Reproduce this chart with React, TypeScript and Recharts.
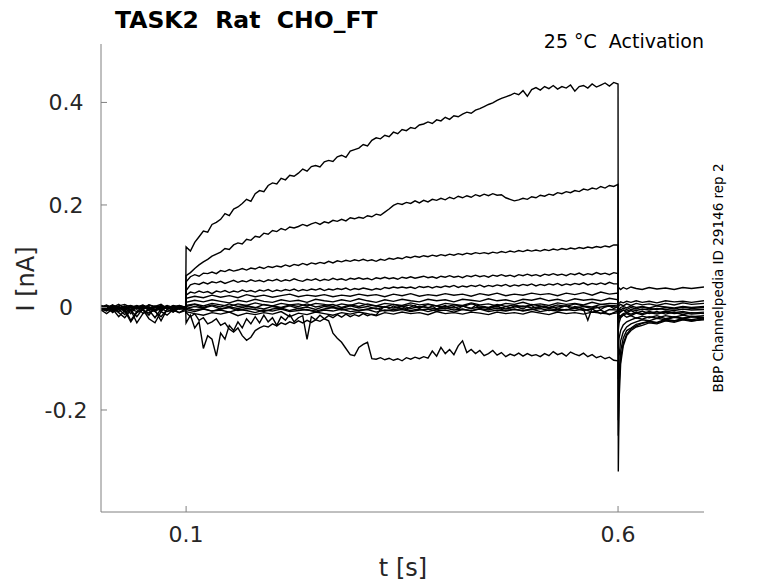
import React from 'react';
import { LineChart, Line, XAxis, YAxis } from 'recharts';

// ---- sample-time grids (s) ----
const T_PRE = [0.0015, 0.008, 0.015, 0.022, 0.029, 0.036, 0.043, 0.05, 0.057, 0.064, 0.071, 0.078, 0.085, 0.092, 0.0995];
const T_POST = [0.6003, 0.6012, 0.603, 0.606, 0.61, 0.615, 0.621, 0.628, 0.636, 0.645, 0.655, 0.665, 0.675, 0.685, 0.6995];
const T_FINE = Array.from({ length: 101 }, (_, k) => Math.round((0.1 + k * 0.005) * 10000) / 10000);
const T_COARSE = Array.from({ length: 51 }, (_, k) => Math.round((0.1 + k * 0.01) * 10000) / 10000);

// ---- axes ----
const X_DOMAIN = [0.0015, 0.6995];
const Y_DOMAIN = [-0.399, 0.514];
const X_TICKS = [0.1, 0.6];
const Y_TICKS = [-0.2, 0, 0.2, 0.4];
const X_TICK_LABELS = ['0.1', '0.6'];
const Y_TICK_LABELS = ['-0.2', '0', '0.2', '0.4'];

// ---- sweeps (current, nA) ----
const A_PRE = [0.002, -0.003, 0.004, -0.001, 0.003, -0.004, 0.001, 0.005, -0.002, 0.003, -0.001, 0.004, 0.0, 0.003, 0.001];
const A_STEP = [
  0.118, 0.11, 0.127, 0.138, 0.149, 0.147, 0.162, 0.166, 0.172, 0.183,
  0.179, 0.192, 0.196, 0.203, 0.211, 0.207, 0.222, 0.228, 0.226, 0.238,
  0.243, 0.241, 0.252, 0.249, 0.258, 0.256, 0.262, 0.27, 0.266, 0.275,
  0.277, 0.274, 0.284, 0.287, 0.285, 0.294, 0.297, 0.293, 0.305, 0.308,
  0.311, 0.318, 0.315, 0.326, 0.331, 0.329, 0.336, 0.333, 0.342, 0.339,
  0.347, 0.345, 0.351, 0.349, 0.356, 0.358, 0.362, 0.359, 0.366, 0.364,
  0.371, 0.367, 0.374, 0.372, 0.377, 0.381, 0.379, 0.385, 0.388, 0.392,
  0.396, 0.399, 0.404, 0.408, 0.411, 0.414, 0.418, 0.415, 0.423, 0.412,
  0.425, 0.429, 0.424, 0.431, 0.427, 0.433, 0.426, 0.431, 0.428, 0.434,
  0.422, 0.431, 0.433, 0.428, 0.436, 0.43, 0.434, 0.438, 0.432, 0.439,
  0.436,
];
const A_POST = [-0.32, -0.18, -0.11, -0.075, -0.055, -0.045, -0.038, -0.035, -0.03, -0.032, -0.026, -0.029, -0.024, -0.027, -0.022];

const B_PRE = [-0.002, 0.003, -0.004, 0.002, -0.006, 0.001, -0.003, 0.004, -0.001, -0.005, 0.002, -0.002, 0.003, -0.003, 0.0];
const B_STEP = [
  0.062, 0.068, 0.076, 0.083, 0.089, 0.094, 0.1, 0.104, 0.108, 0.115,
  0.113, 0.122, 0.126, 0.124, 0.133, 0.131, 0.139, 0.137, 0.145, 0.143,
  0.15, 0.148, 0.154, 0.151, 0.157, 0.155, 0.158, 0.162, 0.159, 0.163,
  0.166, 0.162, 0.167, 0.165, 0.17, 0.168, 0.172, 0.169, 0.175, 0.173,
  0.176, 0.174, 0.179, 0.177, 0.182, 0.18, 0.186, 0.192, 0.199, 0.203,
  0.201, 0.205, 0.203, 0.208, 0.204, 0.209, 0.206, 0.211, 0.209, 0.213,
  0.21, 0.215, 0.212, 0.217, 0.214, 0.218, 0.215, 0.22, 0.217, 0.221,
  0.218, 0.222, 0.219, 0.22, 0.214, 0.211, 0.208, 0.21, 0.213, 0.211,
  0.216, 0.214, 0.219, 0.217, 0.221, 0.219, 0.224, 0.222, 0.226, 0.224,
  0.228, 0.226, 0.231, 0.229, 0.233, 0.231, 0.236, 0.233, 0.238, 0.236,
  0.24,
];
const B_POST = [-0.22, -0.13, -0.085, -0.06, -0.045, -0.04, -0.033, -0.03, -0.027, -0.029, -0.023, -0.026, -0.021, -0.024, -0.02];

const C_PRE = [0.001, -0.005, 0.002, -0.008, 0.0, -0.012, 0.003, -0.004, -0.015, 0.001, -0.006, 0.002, -0.004, 0.001, -0.002];
const C_STEP = [
  0.05, 0.06, 0.064, 0.061, 0.067, 0.066, 0.069, 0.066, 0.072, 0.07,
  0.074, 0.071, 0.073, 0.076, 0.073, 0.077, 0.075, 0.079, 0.076, 0.08,
  0.078, 0.081, 0.079, 0.083, 0.08, 0.084, 0.082, 0.086, 0.083, 0.087,
  0.085, 0.088, 0.086, 0.09, 0.087, 0.091, 0.089, 0.092, 0.09, 0.093,
  0.091, 0.094, 0.091, 0.093, 0.09, 0.094, 0.092, 0.096, 0.094, 0.097,
  0.095, 0.099, 0.097, 0.1, 0.098, 0.101, 0.099, 0.102, 0.1, 0.103,
  0.101, 0.104, 0.102, 0.105, 0.103, 0.106, 0.104, 0.107, 0.105, 0.107,
  0.105, 0.108, 0.106, 0.109, 0.107, 0.11, 0.108, 0.111, 0.109, 0.112,
  0.11, 0.112, 0.11, 0.113, 0.111, 0.114, 0.112, 0.115, 0.113, 0.116,
  0.114, 0.117, 0.115, 0.118, 0.116, 0.119, 0.117, 0.12, 0.118, 0.122,
  0.122,
];
const C_POST = [-0.14, -0.095, -0.065, -0.048, -0.038, -0.032, -0.028, -0.024, -0.026, -0.021, -0.024, -0.019, -0.022, -0.018, -0.02];

const D_PRE = [-0.004, 0.002, -0.01, 0.001, -0.003, -0.025, -0.008, 0.002, -0.005, -0.02, -0.003, 0.001, -0.007, 0.002, 0.0];
const D_STEP = [
  0.033, 0.044, 0.047, 0.045, 0.049, 0.046, 0.05, 0.048, 0.051, 0.047,
  0.05, 0.053, 0.049, 0.052, 0.05, 0.054, 0.051, 0.053, 0.05, 0.054,
  0.052, 0.055, 0.051, 0.054, 0.052, 0.056, 0.053, 0.051, 0.055, 0.053,
  0.056, 0.052, 0.055, 0.053, 0.057, 0.054, 0.056, 0.053, 0.057, 0.055,
  0.058, 0.055, 0.057, 0.054, 0.058, 0.056, 0.059, 0.056, 0.058, 0.055,
  0.059, 0.057, 0.06, 0.057, 0.059, 0.061, 0.058, 0.06, 0.057, 0.061,
  0.059, 0.062, 0.059, 0.061, 0.058, 0.062, 0.06, 0.063, 0.06, 0.062,
  0.059, 0.063, 0.061, 0.064, 0.061, 0.063, 0.06, 0.064, 0.062, 0.065,
  0.062, 0.064, 0.061, 0.065, 0.063, 0.066, 0.063, 0.065, 0.062, 0.066,
  0.064, 0.067, 0.063, 0.066, 0.064, 0.068, 0.065, 0.067, 0.064, 0.068,
  0.066,
];
const D_POST = [-0.08, -0.06, -0.045, -0.034, -0.028, -0.024, -0.02, -0.023, -0.018, -0.021, -0.016, -0.019, -0.015, -0.018, -0.016];

const E_PRE = [0.003, -0.001, 0.005, -0.003, 0.002, 0.004, -0.002, 0.003, 0.001, -0.004, 0.004, -0.001, 0.002, -0.002, 0.001];
const E_STEP = [
  0.024, 0.03, 0.028, 0.032, 0.029, 0.031, 0.027, 0.032, 0.03, 0.033,
  0.029, 0.032, 0.03, 0.034, 0.031, 0.033, 0.03, 0.034, 0.032, 0.035,
  0.031, 0.034, 0.032, 0.035, 0.033, 0.036, 0.032, 0.035, 0.033, 0.036,
  0.034, 0.037, 0.033, 0.036, 0.034, 0.037, 0.035, 0.038, 0.034, 0.037,
  0.035, 0.038, 0.036, 0.034, 0.037, 0.035, 0.039, 0.037, 0.04, 0.038,
  0.04, 0.038, 0.04, 0.037, 0.041, 0.039, 0.041, 0.038, 0.041, 0.039,
  0.042, 0.04, 0.043, 0.039, 0.042, 0.04, 0.043, 0.041, 0.044, 0.04,
  0.043, 0.041, 0.044, 0.042, 0.045, 0.041, 0.044, 0.042, 0.045, 0.043,
  0.046, 0.042, 0.045, 0.043, 0.046, 0.044, 0.047, 0.043, 0.046, 0.044,
  0.047, 0.045, 0.048, 0.044, 0.047, 0.045, 0.048, 0.045, 0.049, 0.046,
  0.046,
];
const E_POST = [0.036, 0.038, 0.035, 0.039, 0.036, 0.04, 0.037, 0.035, 0.039, 0.036, 0.038, 0.035, 0.039, 0.037, 0.04];

const F_PRE = [-0.001, 0.004, 0.0, 0.006, -0.002, 0.003, 0.001, -0.003, 0.005, 0.0, 0.003, -0.002, 0.004, 0.001, 0.002];
const F_STEP = [
  0.018, 0.022, 0.019, 0.024, 0.02, 0.023, 0.019, 0.025, 0.021, 0.024,
  0.02, 0.023, 0.026, 0.021, 0.024, 0.022, 0.025, 0.021, 0.024, 0.022,
  0.026, 0.023, 0.025, 0.021, 0.026, 0.023, 0.027, 0.022, 0.025, 0.023,
  0.027, 0.024, 0.026, 0.022, 0.027, 0.024, 0.028, 0.023, 0.026, 0.024,
  0.028, 0.025, 0.027, 0.023, 0.028, 0.025, 0.029, 0.024, 0.03, 0.026,
  0.028,
];
const F_POST = [-0.03, -0.022, -0.016, -0.012, -0.01, -0.013, -0.009, -0.012, -0.008, -0.011, -0.007, -0.01, -0.008, -0.011, -0.009];

const G_PRE = [0.004, 0.0, -0.006, 0.002, -0.009, -0.003, 0.003, -0.012, -0.004, 0.002, -0.007, 0.001, -0.003, 0.004, -0.001];
const G_STEP = [
  0.01, 0.014, 0.011, 0.015, 0.012, 0.009, 0.014, 0.011, 0.016, 0.012,
  0.01, 0.015, 0.012, 0.014, 0.01, 0.016, 0.013, 0.011, 0.015, 0.012,
  0.017, 0.013, 0.01, 0.015, 0.012, 0.016, 0.013, 0.011, 0.016, 0.013,
  0.015, 0.011, 0.016, 0.014, 0.012, 0.017, 0.013, 0.015, 0.011, 0.016,
  0.014, 0.018, 0.013, 0.016, 0.012, 0.017, 0.014, 0.016, 0.013, 0.018,
  0.015,
];
const G_POST = [-0.018, -0.012, -0.008, -0.005, -0.007, -0.004, -0.006, -0.003, -0.005, -0.002, -0.004, -0.006, -0.003, -0.005, -0.004];

const H_PRE = [-0.003, -0.007, 0.001, -0.004, 0.002, -0.006, -0.018, -0.002, 0.001, -0.005, -0.026, -0.004, 0.002, -0.003, -0.001];
const H_STEP = [
  0.004, 0.007, 0.003, 0.008, 0.005, 0.002, 0.007, 0.004, 0.009, 0.005,
  0.003, 0.008, 0.005, 0.007, 0.003, 0.008, 0.006, 0.002, 0.007, 0.004,
  0.009, 0.005, 0.003, 0.008, 0.006, 0.004, 0.009, 0.005, 0.007, 0.003,
  0.008, 0.006, 0.004, 0.009, 0.005, 0.007, 0.003, 0.008, 0.006, 0.01,
  0.005, 0.007, 0.004, 0.009, 0.006, 0.008, 0.005, 0.01, 0.006, 0.008,
  0.007,
];
const H_POST = [-0.01, -0.004, 0.0, 0.002, -0.001, 0.003, 0.0, 0.002, -0.001, 0.003, 0.001, -0.001, 0.002, 0.0, 0.002];

const I_PRE = [0.001, 0.005, -0.002, 0.003, 0.006, 0.0, 0.004, -0.001, 0.005, 0.002, 0.006, -0.002, 0.003, 0.0, 0.002];
const I_STEP = [
  -0.002, 0.002, -0.001, 0.003, -0.003, 0.001, -0.002, 0.002, 0.0, -0.003,
  0.002, -0.001, 0.003, -0.002, 0.001, -0.004, 0.002, 0.0, -0.002, 0.003,
  -0.001, 0.002, -0.003, 0.001, -0.001, 0.003, -0.002, 0.002, 0.0, -0.003,
  0.002, -0.001, 0.003, -0.002, 0.001, -0.001, 0.002, -0.003, 0.001, 0.003,
  -0.001, 0.002, -0.002, 0.001, 0.003, -0.001, 0.002, -0.002, 0.001, 0.003,
  0.0,
];
const I_POST = [0.0, 0.004, 0.006, 0.003, 0.007, 0.004, 0.008, 0.005, 0.007, 0.004, 0.008, 0.005, 0.009, 0.006, 0.008];

const J_PRE = [-0.006, -0.002, -0.009, -0.004, -0.014, -0.003, -0.008, -0.005, -0.011, -0.004, -0.002, -0.008, -0.005, -0.01, -0.003];
const J_STEP = [
  -0.004, -0.008, -0.003, -0.007, -0.005, -0.009, -0.004, -0.006, -0.01, -0.005,
  -0.007, -0.003, -0.008, -0.006, -0.004, -0.009, -0.005, -0.007, -0.003, -0.008,
  -0.006, -0.004, -0.009, -0.005, -0.007, -0.004, -0.008, -0.005, -0.003, -0.007,
  -0.005, -0.009, -0.004, -0.006, -0.003, -0.008, -0.005, -0.007, -0.004, -0.006,
  -0.003, -0.008, -0.005, -0.007, -0.004, -0.006, -0.003, -0.009, -0.005, -0.014,
  -0.006,
];
const J_POST = [0.003, 0.008, 0.011, 0.009, 0.012, 0.01, 0.013, 0.01, 0.012, 0.009, 0.013, 0.011, 0.012, 0.01, 0.013];

const K_PRE = [0.0, -0.004, 0.003, -0.002, -0.005, 0.002, -0.003, 0.004, -0.006, 0.001, -0.004, 0.003, -0.009, 0.0, -0.002];
const K_STEP = [
  -0.008, -0.012, -0.015, -0.01, -0.013, -0.009, -0.016, -0.011, -0.014, -0.01,
  -0.013, -0.008, -0.018, -0.011, -0.014, -0.009, -0.012, -0.015, -0.01, -0.013,
  -0.009, -0.012, -0.016, -0.01, -0.013, -0.009, -0.012, -0.01, -0.014, -0.008,
  -0.012, -0.01, -0.013, -0.009, -0.011, -0.014, -0.009, -0.012, -0.01, -0.013,
  -0.008, -0.011, -0.014, -0.009, -0.012, -0.01, -0.013, -0.009, -0.011, -0.013,
  -0.01,
];
const K_POST = [-0.006, -0.002, -0.005, -0.001, -0.004, 0.0, -0.003, 0.001, -0.002, -0.004, 0.0, -0.003, 0.001, -0.002, 0.0];

const N_PRE = [0.002, -0.001, 0.004, 0.0, -0.003, 0.003, -0.001, 0.002, -0.004, 0.001, 0.003, -0.002, 0.001, 0.004, 0.0];
const N_STEP = [
  0.002, 0.006, 0.0, 0.005, 0.001, 0.007, 0.002, 0.004, -0.001, 0.006,
  0.003, 0.0, 0.005, 0.002, 0.007, 0.001, 0.004, 0.006, 0.0, 0.005,
  0.002, 0.007, 0.003, 0.001, 0.006, 0.002, 0.005, 0.0, 0.006, 0.003,
  0.001, 0.005, 0.002, 0.007, 0.003, 0.0, 0.006, 0.002, 0.005, 0.001,
  0.006, 0.003, 0.0, 0.005, 0.002, 0.007, 0.003, 0.001, 0.006, 0.004,
  0.003,
];
const N_POST = [-0.012, -0.006, -0.009, -0.005, -0.01, -0.006, -0.011, -0.007, -0.012, -0.008, -0.013, -0.009, -0.014, -0.01, -0.012];

const O_PRE = [-0.003, 0.001, -0.005, -0.002, 0.002, -0.006, -0.001, -0.004, 0.001, -0.007, -0.002, 0.002, -0.004, -0.001, -0.003];
const O_STEP = [
  -0.001, -0.005, -0.002, -0.007, -0.003, 0.0, -0.006, -0.002, -0.004, -0.008,
  -0.003, -0.001, -0.006, -0.002, -0.005, -0.007, -0.003, 0.0, -0.005, -0.002,
  -0.006, -0.003, -0.001, -0.007, -0.004, -0.002, -0.006, -0.003, -0.008, -0.004,
  -0.001, -0.005, -0.003, -0.007, -0.002, -0.005, -0.001, -0.006, -0.003, -0.007,
  -0.004, -0.002, -0.006, -0.003, -0.005, -0.001, -0.006, -0.003, -0.012, -0.004,
  -0.005,
];
const O_POST = [-0.02, -0.015, -0.018, -0.014, -0.019, -0.016, -0.021, -0.017, -0.02, -0.016, -0.022, -0.018, -0.021, -0.017, -0.02];

const L_PRE = [-0.005, -0.012, -0.003, -0.018, -0.006, -0.028, -0.01, -0.004, -0.022, -0.03, -0.008, -0.015, -0.004, -0.01, -0.006];
const L_STEP = [
  -0.01, -0.018, -0.012, -0.025, -0.02, -0.032, -0.028, -0.022, -0.035, -0.03,
  -0.042, -0.048, -0.04, -0.055, -0.064, -0.058, -0.045, -0.04, -0.036, -0.038,
  -0.032, -0.036, -0.03, -0.033, -0.028, -0.031, -0.026, -0.03, -0.025, -0.029,
  -0.024, -0.027, -0.022, -0.026, -0.05, -0.06, -0.068, -0.08, -0.092, -0.094,
  -0.078, -0.072, -0.068, -0.1, -0.101, -0.098, -0.102, -0.099, -0.103, -0.1,
  -0.104, -0.098, -0.101, -0.097, -0.1, -0.096, -0.099, -0.085, -0.095, -0.078,
  -0.09, -0.082, -0.092, -0.075, -0.065, -0.088, -0.082, -0.09, -0.084, -0.094,
  -0.09, -0.084, -0.093, -0.088, -0.096, -0.091, -0.094, -0.089, -0.095, -0.09,
  -0.094, -0.092, -0.096, -0.09, -0.094, -0.086, -0.092, -0.089, -0.095, -0.087,
  -0.091, -0.094, -0.089, -0.096, -0.092, -0.098, -0.095, -0.1, -0.097, -0.103,
  -0.104,
];
const L_POST = [-0.25, -0.15, -0.1, -0.07, -0.052, -0.042, -0.036, -0.031, -0.028, -0.03, -0.025, -0.027, -0.023, -0.026, -0.024];

const M_PRE = [0.0, -0.006, -0.002, -0.01, -0.02, -0.005, -0.03, -0.012, -0.003, -0.008, -0.018, -0.004, -0.009, -0.002, -0.004];
const M_STEP = [
  -0.03, -0.015, -0.04, -0.028, -0.08, -0.055, -0.062, -0.095, -0.05, -0.062,
  -0.035, -0.045, -0.028, -0.04, -0.022, -0.032, -0.018, -0.03, -0.015, -0.028,
  -0.02, -0.035, -0.018, -0.025, -0.014, -0.028, -0.02, -0.016, -0.062, -0.018,
  -0.024, -0.015, -0.022, -0.016, -0.02, -0.014, -0.019, -0.013, -0.018, -0.014,
  -0.017, -0.012, -0.016, -0.013, -0.015, -0.004, 0.002, -0.002, 0.003, -0.001,
  0.002, -0.003, 0.001, 0.004, -0.002, 0.002, -0.001, 0.003, -0.003, 0.001,
  0.004, -0.001, 0.002, -0.003, 0.003, 0.0, -0.002, 0.004, -0.001, 0.002,
  -0.003, 0.001, 0.004, -0.002, 0.002, -0.001, 0.003, 0.0, -0.003, 0.002,
  0.004, -0.002, 0.001, 0.003, -0.001, 0.002, -0.004, 0.001, 0.003, -0.002,
  0.002, 0.0, -0.003, -0.025, -0.001, 0.002, -0.004, 0.001, 0.003, -0.002,
  0.001,
];
const M_POST = [-0.045, -0.03, -0.02, -0.015, -0.012, -0.016, -0.011, -0.014, -0.01, -0.013, -0.009, -0.012, -0.01, -0.013, -0.011];

type Pt = { t: number; i: number };

function zip(ts: number[], vs: number[]): Pt[] {
  const n = Math.min(ts.length, vs.length);
  const out: Pt[] = [];
  for (let k = 0; k < n; k++) out.push({ t: ts[k], i: vs[k] });
  return out;
}

function sweep(pre: number[], step: number[], stepT: number[], post: number[]): Pt[] {
  return [...zip(T_PRE, pre), ...zip(stepT, step), ...zip(T_POST, post)];
}

const SWEEPS: Pt[][] = [
  sweep(O_PRE, O_STEP, T_COARSE, O_POST),
  sweep(N_PRE, N_STEP, T_COARSE, N_POST),
  sweep(K_PRE, K_STEP, T_COARSE, K_POST),
  sweep(J_PRE, J_STEP, T_COARSE, J_POST),
  sweep(I_PRE, I_STEP, T_COARSE, I_POST),
  sweep(H_PRE, H_STEP, T_COARSE, H_POST),
  sweep(G_PRE, G_STEP, T_COARSE, G_POST),
  sweep(F_PRE, F_STEP, T_COARSE, F_POST),
  sweep(M_PRE, M_STEP, T_FINE, M_POST),
  sweep(L_PRE, L_STEP, T_FINE, L_POST),
  sweep(E_PRE, E_STEP, T_FINE, E_POST),
  sweep(D_PRE, D_STEP, T_FINE, D_POST),
  sweep(C_PRE, C_STEP, T_FINE, C_POST),
  sweep(B_PRE, B_STEP, T_FINE, B_POST),
  sweep(A_PRE, A_STEP, T_FINE, A_POST),
];

const FONT = 'DejaVu Sans';
const AXIS_COLOR = '#808080';
const TEXT_COLOR = '#262626';

const XTick = (props: any) => {
  const { x, y, payload } = props;
  const idx = X_TICKS.indexOf(payload.value);
  return (
    <g>
      <line x1={x} x2={x} y1={y} y2={y - 6} stroke={AXIS_COLOR} strokeWidth={1} />
      <text x={x} y={y + 30} textAnchor="middle" fontSize={22} fontFamily={FONT} fill={TEXT_COLOR}>
        {idx >= 0 ? X_TICK_LABELS[idx] : String(payload.value)}
      </text>
    </g>
  );
};

const YTick = (props: any) => {
  const { x, y, payload } = props;
  const idx = Y_TICKS.indexOf(payload.value);
  return (
    <g>
      <line x1={x} x2={x + 6} y1={y} y2={y} stroke={AXIS_COLOR} strokeWidth={1} />
      <text x={x - 35} y={y} dy="0.36em" textAnchor="middle" fontSize={22} fontFamily={FONT} fill={TEXT_COLOR}>
        {idx >= 0 ? Y_TICK_LABELS[idx] : String(payload.value)}
      </text>
    </g>
  );
};

const X_AXIS_H = 30;
const Y_AXIS_W = 60;
const PAD = 8;

export default function App() {
  const W = 770;
  const H = 575;
  return (
    <div style={{ position: 'relative', width: W, height: H, background: '#fff' }}>
      <LineChart
        width={W}
        height={H}
        margin={{ top: 36, right: 74, bottom: 71 - X_AXIS_H, left: 93 - Y_AXIS_W }}
      >
        <XAxis
          type="number"
          dataKey="t"
          domain={X_DOMAIN}
          ticks={X_TICKS}
          allowDataOverflow
          height={X_AXIS_H}
          tickSize={0}
          tickMargin={0}
          tickLine={false}
          axisLine={{ stroke: AXIS_COLOR, strokeWidth: 1 }}
          tick={(p: any) => <XTick {...p} />}
          interval={0}
        />
        <YAxis
          type="number"
          domain={Y_DOMAIN}
          ticks={Y_TICKS}
          allowDataOverflow
          width={Y_AXIS_W}
          tickSize={0}
          tickMargin={0}
          tickLine={false}
          axisLine={{ stroke: AXIS_COLOR, strokeWidth: 1 }}
          tick={(p: any) => <YTick {...p} />}
          interval={0}
        />
        {SWEEPS.map((d, k) => (
          <Line
            key={k}
            data={d}
            dataKey="i"
            type="linear"
            dot={false}
            activeDot={false}
            stroke="#000"
            strokeWidth={1.4}
            isAnimationActive={false}
          />
        ))}
      </LineChart>
      <svg
        width={W + PAD}
        height={H + PAD}
        style={{ position: 'absolute', left: -PAD, top: -PAD, pointerEvents: 'none', overflow: 'visible' }}
      >
        <g transform={`translate(${PAD} ${PAD})`}>
          <text x={107} y={20} fontSize={23.5} fontWeight="bold" fontFamily={FONT} fill="#000" style={{ whiteSpace: 'pre' }}>
            {'TASK2  Rat  CHO_FT'}
          </text>
          <text x={696} y={40} textAnchor="end" fontSize={19} fontFamily={FONT} fill="#000" style={{ whiteSpace: 'pre' }}>
            {'25 °C  Activation'}
          </text>
          <text
            x={715}
            y={270}
            transform="rotate(-90 715 270)"
            textAnchor="middle"
            fontSize={13.5}
            fontFamily={FONT}
            fill="#000"
          >
            BBP Channelpedia ID 29146 rep 2
          </text>
          <text
            x={26}
            y={271}
            transform="rotate(-90 26 271)"
            textAnchor="middle"
            fontSize={24}
            fontFamily={FONT}
            fill={TEXT_COLOR}
          >
            I [nA]
          </text>
          <text x={395} y={568} textAnchor="middle" fontSize={24} fontFamily={FONT} fill={TEXT_COLOR}>
            t [s]
          </text>
        </g>
      </svg>
    </div>
  );
}
